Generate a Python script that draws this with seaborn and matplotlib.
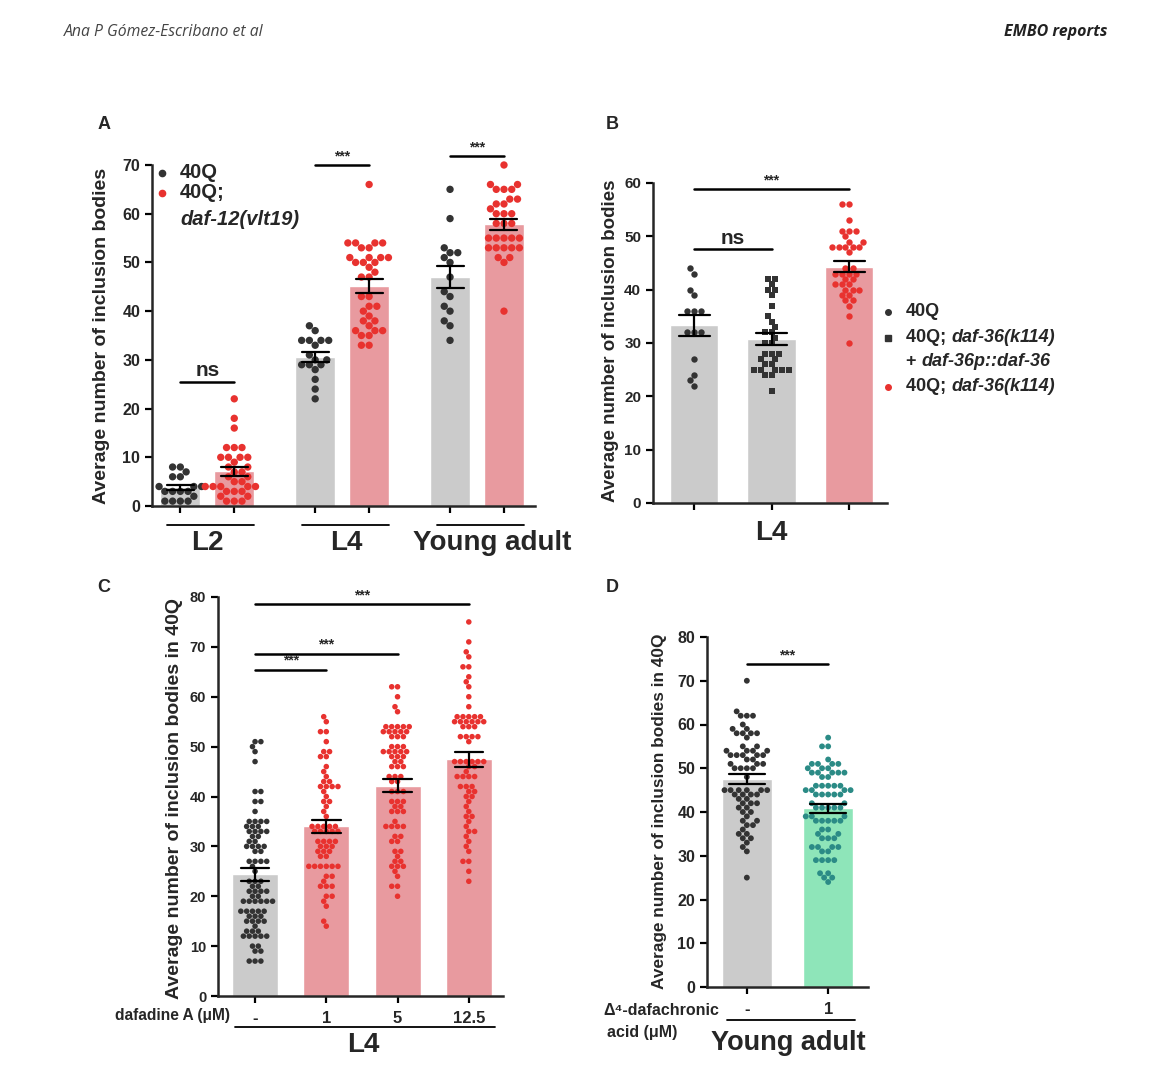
import pandas as pd
import matplotlib
matplotlib.use("Agg")
import matplotlib.pyplot as plt
import matplotlib.transforms as mtransforms
import seaborn as sns

sns.set_style("ticks")
plt.rcParams['font.family'] = ['Liberation Sans', 'DejaVu Sans']
plt.rcParams['font.weight'] = 'bold'
plt.rcParams['axes.labelweight'] = 'bold'

# colours
GRAY = '#cbcbcb'
PINK = '#e89a9f'
DARK = '#333333'
RED = '#e8322f'
TEAL = '#2b8b86'
GREEN = '#8ee5b9'

# panel A data
a_stages = ['L2', 'L4', 'Young adult']
a_genos = ['40Q', '40Q; daf-12(vlt19)']
a_l2_40q = [8, 8, 7, 6, 6, 4, 4, 4, 3, 3, 3, 3, 2, 1, 1, 1, 1]
a_l2_daf12 = [22, 18, 16, 12, 12, 12, 10, 10, 10, 10, 9, 8, 8, 7, 7, 6, 6, 5, 5,
              4, 4, 4, 4, 4, 3, 3, 3, 2, 2, 1, 1, 1]
a_l4_40q = [37, 36, 34, 34, 34, 34, 33, 31, 30, 30, 29, 29, 29, 28, 26, 24, 22]
a_l4_daf12 = [66, 54, 54, 54, 54, 53, 53, 51, 51, 51, 51, 50, 50, 50, 49, 48, 47, 47,
              43, 43, 41, 41, 40, 39, 38, 38, 37, 36, 36, 36, 35, 35, 33, 33]
a_ya_40q = [65, 59, 53, 52, 52, 51, 50, 47, 44, 43, 41, 40, 38, 37, 34]
a_ya_daf12 = [70, 66, 66, 65, 65, 65, 63, 63, 62, 62, 61, 60, 60, 60, 58, 58, 58, 55, 55,
              55, 55, 55, 53, 53, 53, 53, 53, 51, 51, 50, 40]

# panel B data
b_groups = ['40Q', '40Q; daf-36(k114) + daf-36p::daf-36', '40Q; daf-36(k114)']
b_40q = [44, 43, 40, 39, 36, 36, 36, 32, 32, 32, 27, 24, 23, 22]
b_rescue = [42, 42, 41, 40, 40, 39, 37, 35, 34, 33, 32, 32, 31, 30, 30, 28, 28, 28, 27, 27,
            26, 26, 25, 25, 25, 25, 25, 24, 24, 21]
b_daf36 = [56, 56, 53, 51, 51, 51, 50, 49, 49, 48, 48, 48, 48, 48, 47, 44, 44, 43, 43, 43,
           43, 42, 42, 41, 41, 41, 40, 40, 40, 39, 39, 38, 38, 37, 35, 30]

# panel C data (dafadine A, uM)
c_doses = ['-', '1', '5', '12.5']
c_0 = [51, 51, 50, 49, 47, 41, 41, 39, 39, 37, 35, 35, 35, 35, 34, 34, 34, 33, 33, 33, 33,
       32, 32, 31, 31, 30, 30, 30, 30, 29, 29, 27, 27, 27, 27, 26, 25, 23, 23, 23, 22, 22,
       21, 21, 21, 21, 20, 20, 19, 19, 19, 19, 19, 19, 17, 17, 17, 17, 17, 16, 16, 16, 15,
       15, 15, 15, 14, 13, 13, 13, 12, 12, 12, 12, 12, 10, 10, 9, 9, 7, 7, 7]
c_1 = [56, 55, 53, 53, 51, 49, 49, 48, 48, 46, 45, 44, 43, 43, 42, 42, 42, 42, 41, 40, 39,
       39, 38, 37, 36, 34, 34, 34, 34, 34, 33, 33, 33, 33, 33, 31, 31, 31, 31, 30, 30, 30,
       29, 29, 29, 28, 28, 26, 26, 26, 26, 26, 26, 24, 24, 23, 22, 22, 22, 20, 20, 19, 18,
       15, 14]
c_5 = [62, 62, 60, 58, 57, 54, 54, 54, 54, 54, 53, 53, 53, 53, 53, 52, 52, 52, 50, 50, 50,
       49, 49, 49, 49, 49, 48, 48, 48, 47, 47, 46, 46, 46, 44, 44, 44, 43, 43, 41, 41, 41,
       39, 39, 39, 38, 38, 37, 37, 37, 35, 34, 34, 34, 34, 32, 32, 31, 31, 29, 29, 28, 27,
       27, 26, 26, 26, 25, 24, 22, 22, 20]
c_12 = [75, 71, 69, 68, 66, 66, 64, 63, 62, 60, 58, 56, 56, 56, 56, 56, 55, 55, 55, 55, 55,
        55, 54, 54, 54, 52, 52, 52, 52, 51, 47, 47, 47, 47, 47, 47, 46, 46, 45, 44, 44, 44,
        44, 42, 42, 42, 41, 41, 40, 40, 39, 38, 37, 36, 36, 35, 34, 33, 33, 32, 31, 30, 29,
        27, 27, 25, 23]

# panel D data (delta4-dafachronic acid, uM)
d_doses = ['-', '1']
d_0 = [70, 63, 62, 62, 62, 60, 59, 59, 58, 58, 58, 58, 57, 55, 55, 54, 54, 54, 54, 53, 53,
       53, 53, 53, 52, 52, 51, 51, 51, 50, 50, 50, 50, 48, 45, 45, 45, 45, 45, 45, 44, 44,
       44, 44, 43, 43, 42, 42, 42, 41, 41, 40, 40, 39, 38, 38, 37, 37, 36, 35, 35, 34, 34,
       33, 32, 31, 25]
d_1 = [57, 55, 55, 52, 51, 51, 51, 51, 50, 50, 50, 49, 49, 49, 49, 49, 48, 48, 46, 46, 46,
       46, 46, 45, 45, 45, 45, 44, 44, 44, 44, 44, 42, 42, 41, 41, 41, 41, 41, 39, 39, 39,
       38, 38, 38, 38, 38, 36, 36, 35, 35, 34, 34, 34, 32, 32, 32, 32, 31, 31, 29, 29, 29,
       29, 26, 26, 25, 25, 24]


def long_df(keys, groups, key='group'):
    return pd.concat([pd.DataFrame({key: k, 'value': v}) for k, v in zip(keys, groups)],
                     ignore_index=True)


dfA = pd.concat([
    long_df(a_genos, [a_l2_40q, a_l2_daf12], 'geno').assign(stage='L2'),
    long_df(a_genos, [a_l4_40q, a_l4_daf12], 'geno').assign(stage='L4'),
    long_df(a_genos, [a_ya_40q, a_ya_daf12], 'geno').assign(stage='Young adult'),
], ignore_index=True)
dfB = long_df(b_groups, [b_40q, b_rescue, b_daf36])
dfC = long_df(c_doses, [c_0, c_1, c_5, c_12])
dfD = long_df(d_doses, [d_0, d_1])

W, H = 1170, 1091
fig = plt.figure(figsize=(W / 100, H / 100), dpi=100)


def box(l, r, t, b):
    return [l / W, 1 - b / H, (r - l) / W, (b - t) / H]


def style(ax, ymax, ystep, fs):
    ax.set_ylim(0, ymax)
    ax.set_yticks(range(0, ymax + 1, ystep))
    sns.despine(ax=ax)
    for s in ['left', 'bottom']:
        ax.spines[s].set_linewidth(1.8)
    ax.tick_params(axis='both', width=1.6, length=5, labelsize=fs, color='black')
    ax.set_xlabel('')


def sig(ax, x1, x2, y, label, fs, off):
    ax.plot([x1, x2], [y, y], color='black', lw=1.8, clip_on=False)
    ax.text((x1 + x2) / 2, y + off, label, ha='center', va='bottom', fontsize=fs,
            clip_on=False)


err = {'color': 'black', 'linewidth': 1.6, 'zorder': 5}
dots = {'zorder': 3, 'clip_on': False, 'legend': False}

# ---------------- A
axA = fig.add_axes(box(152, 535, 165, 506))
sns.barplot(data=dfA, x='stage', y='value', hue='geno', order=a_stages, hue_order=a_genos,
            palette=[GRAY, PINK], saturation=1, errorbar=('se', 1), capsize=0.4,
            err_kws=err, width=0.8, gap=0.26, legend=False, ax=axA)
sns.swarmplot(data=dfA, x='stage', y='value', hue='geno', order=a_stages, hue_order=a_genos,
              palette=[DARK, RED], dodge=True, size=5.3, ax=axA, **dots)
style(axA, 70, 10, 11.5)
axA.set_xlim(-0.41, 2.43)
axA.set_xticks([-0.2, 0.2, 0.8, 1.2, 1.8, 2.2])
axA.set_xticklabels([])
axA.set_ylabel('Average number of inclusion bodies', fontsize=14)
axA.yaxis.set_label_coords(-0.11, 0.5)
sig(axA, -0.2, 0.2, 25.5, 'ns', 15, 0.3)
sig(axA, 0.8, 1.2, 70.0, '***', 10, 0.3)
sig(axA, 1.8, 2.2, 71.8, '***', 10, 0.3)
trA = mtransforms.blended_transform_factory(axA.transData, axA.transAxes)
for i, (st, dx) in enumerate(zip(a_stages, [0.0, 0.03, 0.11])):
    axA.plot([i - 0.3, i + 0.35], [-0.056, -0.056], transform=trA, color='black', lw=1.3,
             clip_on=False)
    axA.text(i + dx, -0.108, st, transform=trA, ha='center', va='center', fontsize=20)
axA.plot([0.026], [0.977], 'o', color=DARK, ms=4.5, transform=axA.transAxes, clip_on=False)
axA.plot([0.026], [0.918], 'o', color=RED, ms=4.5, transform=axA.transAxes, clip_on=False)
axA.text(0.073, 0.977, '40Q', transform=axA.transAxes, va='center', fontsize=14.5)
axA.text(0.073, 0.918, '40Q;', transform=axA.transAxes, va='center', fontsize=14.5)
axA.text(0.073, 0.839, 'daf-12(vlt19)', transform=axA.transAxes, va='center', fontsize=14.5,
         style='italic')

# ---------------- B
axB = fig.add_axes(box(653, 887, 183, 503))
sns.barplot(data=dfB, x='group', y='value', hue='group', order=b_groups, hue_order=b_groups,
            palette=[GRAY, GRAY, PINK], saturation=1, errorbar=('se', 1), capsize=0.4,
            err_kws=err, width=0.63, legend=False, ax=axB)
for g, c, m in zip(b_groups, [DARK, DARK, RED], ['o', 's', 'o']):
    sns.swarmplot(data=dfB[dfB['group'] == g], x='group', y='value', order=b_groups,
                  color=c, marker=m, size=4.6, ax=axB, **dots)
style(axB, 60, 10, 11)
axB.set_xlim(-0.53, 2.49)
axB.set_xticklabels([])
axB.set_ylabel('Average number of inclusion bodies', fontsize=13.5)
axB.yaxis.set_label_coords(-0.145, 0.506)
sig(axB, 0, 1, 47.6, 'ns', 15, 0.3)
sig(axB, 0, 2, 58.8, '***', 10, 0.3)
trB = mtransforms.blended_transform_factory(axB.transData, axB.transAxes)
axB.text(1, -0.094, 'L4', transform=trB, ha='center', va='center', fontsize=20)
leg_y = [0.598, 0.516, 0.442, 0.363]
axB.plot([1.004], [leg_y[0]], 'o', color=DARK, ms=4, transform=axB.transAxes, clip_on=False)
axB.plot([1.004], [leg_y[1]], 's', color=DARK, ms=4, transform=axB.transAxes, clip_on=False)
axB.plot([1.004], [leg_y[3]], 'o', color=RED, ms=4, transform=axB.transAxes, clip_on=False)
axB.text(1.081, leg_y[0], '40Q', transform=axB.transAxes, va='center', fontsize=13)
for yy, head, tail in [(leg_y[1], '40Q; ', 'daf-36(k114)'),
                       (leg_y[2], '+ ', 'daf-36p::daf-36'),
                       (leg_y[3], '40Q; ', 'daf-36(k114)')]:
    t = axB.text(1.081, yy, head, transform=axB.transAxes, va='center', fontsize=13)
    axB.annotate(tail, xy=(1, 0.5), xycoords=t, va='center', ha='left', fontsize=13,
                 style='italic')

# ---------------- C
axC = fig.add_axes(box(218, 503, 597, 996))
sns.barplot(data=dfC, x='group', y='value', hue='group', order=c_doses, hue_order=c_doses,
            palette=[GRAY, PINK, PINK, PINK], saturation=1, errorbar=('se', 1), capsize=0.4,
            err_kws=err, width=0.645, legend=False, ax=axC)
sns.swarmplot(data=dfC, x='group', y='value', hue='group', order=c_doses, hue_order=c_doses,
              palette=[DARK, RED, RED, RED], size=4.0, ax=axC, **dots)
style(axC, 80, 10, 10.5)
axC.set_xlim(-0.52, 3.48)
axC.tick_params(axis='x', labelsize=12, pad=6)
axC.set_ylabel('Average number of inclusion bodies in 40Q', fontsize=14)
axC.yaxis.set_label_coords(-0.123, 0.496)
sig(axC, 0, 3, 78.5, '***', 10, 0.4)
sig(axC, 0, 2, 68.6, '***', 10, 0.4)
sig(axC, 0, 1, 65.4, '***', 10, 0.4)
axC.text(0.042, -0.048, 'dafadine A (μM)', transform=axC.transAxes, ha='right',
         va='center', fontsize=11.2)
axC.plot([0.06, 0.972], [-0.077, -0.077], transform=axC.transAxes, color='black', lw=1.3,
         clip_on=False)
axC.text(0.509, -0.123, 'L4', transform=axC.transAxes, ha='center', va='center', fontsize=20)

# ---------------- D
axD = fig.add_axes(box(707, 868, 637, 987))
sns.barplot(data=dfD, x='group', y='value', hue='group', order=d_doses, hue_order=d_doses,
            palette=[GRAY, GREEN], saturation=1, errorbar=('se', 1), capsize=0.45,
            err_kws=err, width=0.62, legend=False, ax=axD)
sns.swarmplot(data=dfD, x='group', y='value', hue='group', order=d_doses, hue_order=d_doses,
              palette=[DARK, TEAL], size=4.2, ax=axD, **dots)
style(axD, 80, 10, 11.5)
axD.set_xlim(-0.49, 1.49)
axD.tick_params(axis='x', labelsize=12, pad=6)
axD.set_ylabel('Average number of inclusion bodies in 40Q', fontsize=12.4)
axD.yaxis.set_label_coords(-0.248, 0.503)
sig(axD, 0, 1, 73.8, '***', 10, 0.4)
axD.text(-0.646, -0.066, 'Δ⁴-dafachronic', transform=axD.transAxes, ha='left', va='center',
         fontsize=11.5)
axD.text(-0.621, -0.129, 'acid (μM)', transform=axD.transAxes, ha='left', va='center',
         fontsize=11.5)
axD.plot([0.124, 0.919], [-0.094, -0.094], transform=axD.transAxes, color='black', lw=1.3,
         clip_on=False)
axD.text(0.503, -0.16, 'Young adult', transform=axD.transAxes, ha='center', va='center',
         fontsize=19.5)

# panel letters and page header
for letter, (x, y) in zip('ABCD', [(104, 125), (612, 125), (104, 588), (612, 588)]):
    fig.text(x / W, 1 - y / H, letter, ha='center', va='center', fontsize=13)
fig.text(64 / W, 1 - 32 / H, 'Ana P Gómez-Escribano et al', ha='left', va='center',
         fontsize=11.3, style='italic', weight='normal', color='#444444',
         family=['Open Sans', 'DejaVu Sans'])
fig.text(1108 / W, 1 - 32 / H, 'EMBO reports', ha='right', va='center', fontsize=11.5,
         style='italic', weight='bold', color='#222222', family=['Open Sans', 'DejaVu Sans'])

fig.savefig('out.png', dpi=100)
